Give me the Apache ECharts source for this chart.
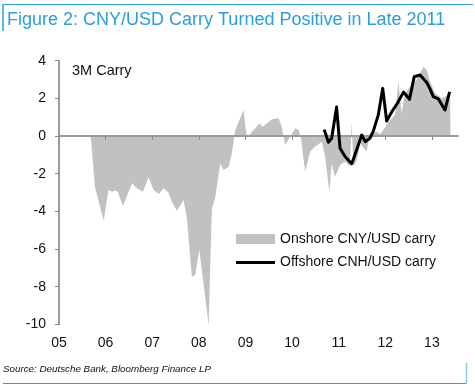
<!DOCTYPE html>
<html>
<head>
<meta charset="utf-8">
<script src="https://cdn.jsdelivr.net/npm/echarts@6/dist/echarts.min.js"></script>
<style>
html,body{margin:0;padding:0;background:#fff;}
#c{width:475px;height:390px;}
</style>
</head>
<body>
<div id="c"></div>
<script>
// Onshore CNY/USD 3M carry (decimal year, %)
var onshoreX = [2005.68,2005.72,2005.77,2005.96,2006.06,2006.14,2006.21,2006.26,2006.37,2006.57,2006.67,2006.80,2006.92,2007.03,2007.14,2007.24,2007.35,2007.42,2007.53,2007.67,2007.74,2007.85,2007.92,2008.01,2008.21,2008.28,2008.35,2008.46,2008.53,2008.64,2008.71,2008.78,2008.96,2009.03,2009.14,2009.30,2009.37,2009.57,2009.71,2009.78,2009.85,2009.89,2010.07,2010.14,2010.19,2010.28,2010.39,2010.49,2010.64,2010.71,2010.80,2010.85,2010.92,2011.03,2011.14,2011.24,2011.28,2011.315,2011.39,2011.46,2011.60,2011.67,2011.82,2011.89,2011.96,2012.07,2012.21,2012.28,2012.35,2012.42,2012.53,2012.67,2012.82,2012.89,2012.96,2013.07,2013.21,2013.35,2013.39,2013.40];
var onshoreY = [0,-1.2,-2.7,-4.5,-2.87,-2.96,-2.9,-2.96,-3.72,-2.51,-2.78,-2.96,-2.19,-2.87,-3.08,-2.78,-3.0,-3.49,-3.97,-3.4,-4.28,-7.47,-7.38,-6.05,-10.04,-3.84,-3.31,-1.45,-1.8,-1.63,-0.92,0.3,1.38,-0.12,0.23,0.67,0.49,0.89,0.94,0.49,-0.48,-0.57,0.41,0.32,-0.1,-1.9,-0.83,-0.57,-0.3,-1.1,-2.96,-1.45,-2.16,-1.54,-1.36,-1.63,0.76,-1.63,-1.27,-0.39,-0.83,0.14,0.23,0.1,0.32,0.76,1.12,2.88,1.2,2.27,2.62,2.97,3.68,3.5,2.88,2.27,2.0,2.18,1.91,0];
// Offshore CNH/USD 3M carry
var offshoreX = [2010.69,2010.78,2010.85,2010.955,2011.03,2011.14,2011.28,2011.39,2011.495,2011.57,2011.67,2011.74,2011.85,2011.945,2012.03,2012.14,2012.26,2012.39,2012.445,2012.52,2012.62,2012.745,2012.89,2012.96,2013.03,2013.14,2013.28,2013.38];
var offshoreY = [0.34,-0.33,-0.12,1.54,-0.65,-1.1,-1.47,-0.7,0.05,-0.3,-0.12,0.23,1.12,2.53,0.8,1.29,1.74,2.33,2.18,1.95,3.15,3.24,2.84,2.5,2.09,1.97,1.38,2.35];
var yearTicks = [2005,2006,2007,2008,2009,2010,2011,2012,2013];
var yearLabels = ['05','06','07','08','09','10','11','12','13'];
var seriesNames = ['Onshore CNY/USD carry','Offshore CNH/USD carry'];

function zip(a,b){var r=[];for(var i=0;i<a.length;i++){r.push([a[i],b[i]]);}return r;}

var FONT = 'Liberation Sans, Arial, Helvetica, sans-serif';
var BLUE = '#2a9fdb';
var chart = echarts.init(document.getElementById('c'), null, {renderer:'canvas'});
var xMin = 2005, xMax = 2013.56;
var labelMap = {};
yearTicks.forEach(function(y,i){labelMap[y]=yearLabels[i];});

chart.setOption({
  animation:false,
  backgroundColor:'#fff',
  grid:{left:59,top:60.7,right:17,bottom:65.7,containLabel:false},
  xAxis:[{
    type:'value',min:xMin,max:xMax,interval:1,z:3,
    axisLine:{onZero:true,lineStyle:{color:'#9b9b9b',width:2}},
    axisTick:{show:true,length:4,customValues:yearTicks,lineStyle:{color:'#8a8a8a',width:1}},
    axisLabel:{show:false},
    splitLine:{show:false}
  },{
    type:'value',min:xMin,max:xMax,interval:1,position:'bottom',
    axisLine:{show:false,onZero:false},
    axisTick:{show:false},
    splitLine:{show:false},
    axisLabel:{show:true,margin:12,fontSize:14,fontFamily:FONT,color:'#111',
      customValues:yearTicks,
      formatter:function(v){return labelMap[Math.round(v)]||'';}}
  }],
  yAxis:{
    type:'value',min:-10,max:4,interval:2,
    axisLine:{show:true,lineStyle:{color:'#9b9b9b',width:2}},
    axisTick:{show:true,length:4,lineStyle:{color:'#8a8a8a',width:1}},
    axisLabel:{margin:13,fontSize:14,fontFamily:FONT,color:'#111'},
    splitLine:{show:false}
  },
  legend:{
    orient:'vertical',left:231,top:227,itemWidth:39,itemHeight:10,itemGap:9.5,
    textStyle:{fontSize:14,fontFamily:FONT,color:'#111'},
    itemStyle:{borderWidth:0},
    data:[{name:seriesNames[0],icon:'rect'},{name:seriesNames[1],icon:'path://M0,0L40,0L40,3L0,3Z'}]
  },
  series:[{
    name:seriesNames[0],type:'line',xAxisIndex:0,data:zip(onshoreX,onshoreY),
    symbol:'none',showSymbol:false,color:'#c1c1c1',z:1,
    lineStyle:{width:0},
    areaStyle:{color:'#c1c1c1',opacity:1}
  },{
    name:seriesNames[1],type:'line',xAxisIndex:0,data:zip(offshoreX,offshoreY),
    symbol:'none',showSymbol:false,color:'#000',z:5,
    lineStyle:{width:3,color:'#000',join:'round'}
  }],
  graphic:[
    {type:'line',shape:{x1:3,y1:4.5,x2:473,y2:4.5},style:{stroke:BLUE,lineWidth:1}},
    {type:'line',shape:{x1:3,y1:4,x2:3,y2:31},style:{stroke:BLUE,lineWidth:1.5}},
    {type:'text',left:7,top:11,style:{text:'Figure 2: CNY/USD Carry Turned Positive in Late 2011',fill:BLUE,font:'18px '+FONT}},
    {type:'text',left:72,top:63,style:{text:'3M Carry',fill:'#111',font:'14.5px '+FONT}},
    {type:'text',left:3,top:364,style:{text:'Source: Deutsche Bank, Bloomberg Finance LP',fill:'#111',font:'italic 9.8px '+FONT}},
    {type:'line',shape:{x1:3,y1:383.5,x2:467,y2:383.5},style:{stroke:BLUE,lineWidth:1}},
    {type:'line',shape:{x1:466.5,y1:363,x2:466.5,y2:384},style:{stroke:'#8fcbea',lineWidth:1.5}}
  ]
});
</script>
</body>
</html>
